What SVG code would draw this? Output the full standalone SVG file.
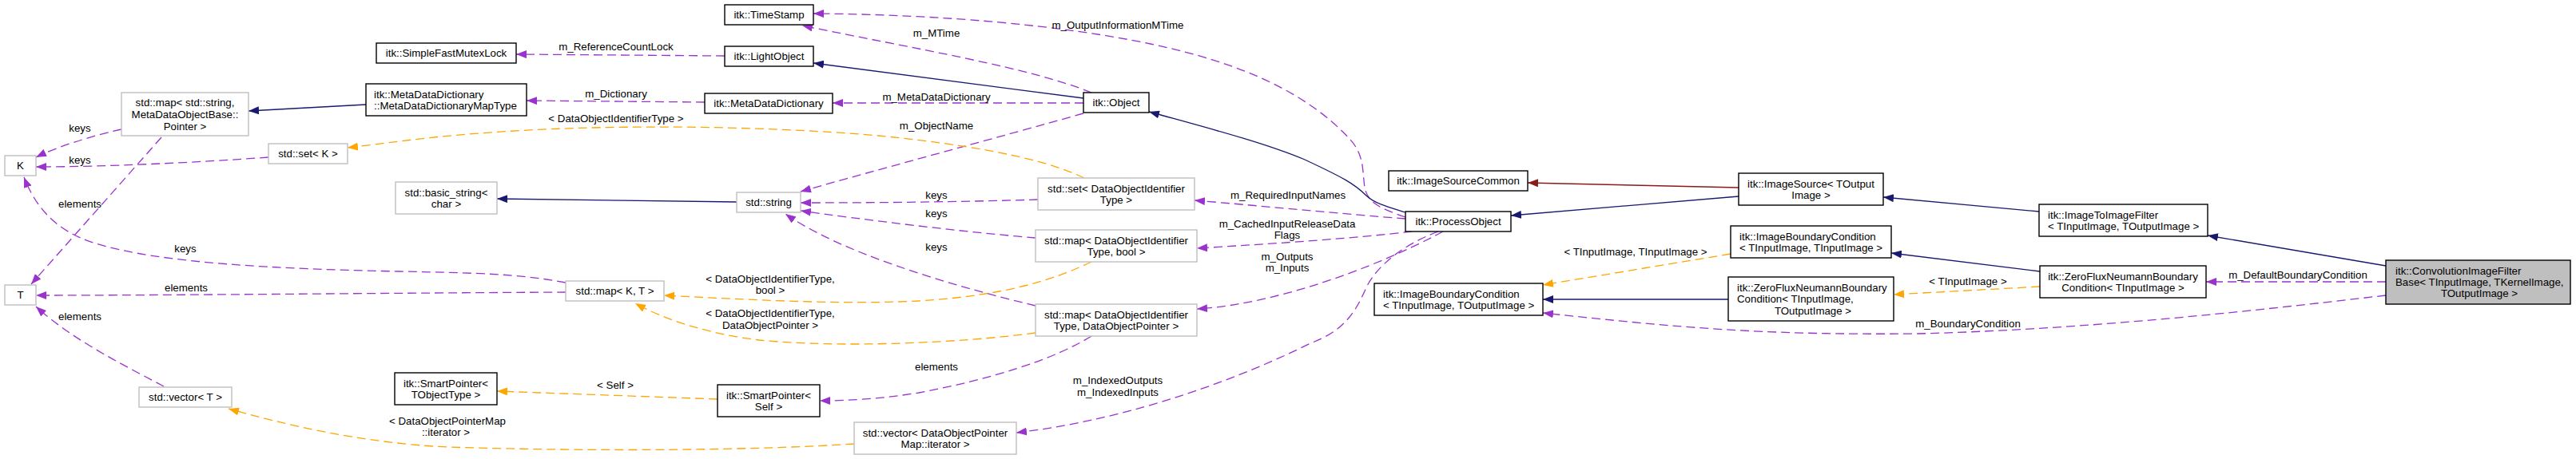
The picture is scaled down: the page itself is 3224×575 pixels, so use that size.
<svg xmlns="http://www.w3.org/2000/svg" width="3224" height="575" viewBox="0 0 3224 575">
<style>
text{font-family:"Liberation Sans",Arial,Helvetica,sans-serif;font-size:13.3px;fill:#000}
.c{text-anchor:middle}
.nd rect{fill:#fff;stroke:#000;stroke-width:1.4}
.ng rect{fill:#fff;stroke:#bfbfbf;stroke-width:1.4}
.root rect{fill:#bfbfbf;stroke:#000;stroke-width:1.4}
.e path{fill:none;stroke-width:1.3}
.p{stroke:#9a32cd;stroke-dasharray:11,6;marker-end:url(#ap)}
.o{stroke:#ffa500;stroke-dasharray:11,6;marker-end:url(#ao)}
.b{stroke:#191970;marker-end:url(#ab)}
.r{stroke:#8b1a1a;marker-end:url(#ar)}
</style>
<defs>
<marker id="ap" viewBox="0 0 13 10" refX="13" refY="5" markerWidth="13" markerHeight="10" markerUnits="userSpaceOnUse" orient="auto"><path d="M0,0 L13,5 L0,10 z" fill="#9a32cd"/></marker>
<marker id="ao" viewBox="0 0 13 10" refX="13" refY="5" markerWidth="13" markerHeight="10" markerUnits="userSpaceOnUse" orient="auto"><path d="M0,0 L13,5 L0,10 z" fill="#ffa500"/></marker>
<marker id="ab" viewBox="0 0 13 10" refX="13" refY="5" markerWidth="13" markerHeight="10" markerUnits="userSpaceOnUse" orient="auto"><path d="M0,0 L13,5 L0,10 z" fill="#191970"/></marker>
<marker id="ar" viewBox="0 0 13 10" refX="13" refY="5" markerWidth="13" markerHeight="10" markerUnits="userSpaceOnUse" orient="auto"><path d="M0,0 L13,5 L0,10 z" fill="#8b1a1a"/></marker>
</defs>
<rect x="0" y="0" width="3224" height="575" fill="#fff"/>

<g id="connectors" class="e">
<path class="p" d="M152,162 C125,168 80,180 45,197"/>
<path class="p" d="M336,197 C240,204 130,209 45,209"/>
<path class="p" d="M708,354 C650,343 600,342 500,340 C350,337 200,330 120,305 C70,290 45,260 30,222"/>
<path class="p" d="M708,366 C500,367 200,370 45,370"/>
<path class="p" d="M202,172 L39,356"/>
<path class="p" d="M205,484 C150,455 90,425 45,384"/>
<path class="b" d="M458,131 L311,139"/>
<path class="p" d="M907,70 L646,68"/>
<path class="p" d="M882,128 L659,126"/>
<path class="b" d="M1356,123 L1018,79"/>
<path class="p" d="M1366,116 C1290,85 1150,62 1004,32"/>
<path class="p" d="M1759,272 C1730,262 1712,255 1708,235 C1705,215 1708,195 1690,175 C1640,120 1560,80 1440,55 C1330,32 1180,18 1018,17"/>
<path class="p" d="M1356,129 L1042,129"/>
<path class="p" d="M1356,142 C1250,172 1100,212 1002,240"/>
<path class="b" d="M922,253 L622,249"/>
<path class="p" d="M1299,250 C1200,253 1100,254 1002,254"/>
<path class="p" d="M1296,298 C1200,290 1080,275 1002,264"/>
<path class="p" d="M1296,383 C1180,355 1050,315 983,268"/>
<path class="o" d="M1357,223 C1320,205 1250,185 1100,170 C950,157 750,155 600,167 C530,172 480,180 435,185"/>
<path class="o" d="M1366,328 C1320,350 1260,370 1150,377 C1050,382 930,375 831,370"/>
<path class="o" d="M1296,417 C1200,430 1050,436 950,426 C900,420 840,405 795,380"/>
<path class="p" d="M1366,421 C1320,450 1240,475 1150,492 C1100,500 1060,502 1026,502"/>
<path class="o" d="M898,500 L622,490"/>
<path class="o" d="M1069,556 C950,564 750,566 560,560 C450,555 350,530 286,512"/>
<path class="p" d="M1759,274 C1680,268 1580,258 1495,251"/>
<path class="p" d="M1767,290 C1700,298 1600,305 1498,311"/>
<path class="p" d="M1806,290 C1760,315 1680,350 1600,370 C1560,380 1530,385 1498,387"/>
<path class="p" d="M1800,290 C1760,305 1725,330 1710,360 C1695,395 1680,415 1640,430 C1560,470 1420,525 1272,542"/>
<path class="b" d="M1759,266 C1740,260 1720,255 1710,245 C1695,230 1680,222 1633,200 C1580,178 1510,160 1438,140"/>
<path class="r" d="M2176,235 L1912,229"/>
<path class="b" d="M2176,246 L1891,270"/>
<path class="b" d="M2552,265 L2357,247"/>
<path class="b" d="M2986,333 L2763,295"/>
<path class="p" d="M2986,353 L2761,353"/>
<path class="p" d="M2986,370 C2800,392 2600,413 2400,418 C2200,420 2100,410 1931,392"/>
<path class="b" d="M2553,340 L2367,317"/>
<path class="o" d="M2553,359 L2370,369"/>
<path class="b" d="M2163,375 L1931,375"/>
<path class="o" d="M2166,318 L1931,357"/>
</g>

<g id="edge-labels">
<text class="c" x="100" y="165">keys</text>
<text class="c" x="100" y="205">keys</text>
<text class="c" x="100" y="260">elements</text>
<text class="c" x="232" y="316">keys</text>
<text class="c" x="233" y="365">elements</text>
<text class="c" x="100" y="401">elements</text>
<text class="c" x="771" y="63">m_ReferenceCountLock</text>
<text class="c" x="771" y="122">m_Dictionary</text>
<text class="c" x="771" y="153">&lt; DataObjectIdentifierType &gt;</text>
<text class="c" x="964" y="354">&lt; DataObjectIdentifierType,</text>
<text class="c" x="964" y="368">bool &gt;</text>
<text class="c" x="964" y="397">&lt; DataObjectIdentifierType,</text>
<text class="c" x="964" y="412">DataObjectPointer &gt;</text>
<text class="c" x="770" y="487">&lt; Self &gt;</text>
<text class="c" x="560" y="532">&lt; DataObjectPointerMap</text>
<text class="c" x="558" y="546">::iterator &gt;</text>
<text class="c" x="1399" y="36">m_OutputInformationMTime</text>
<text class="c" x="1172" y="46">m_MTime</text>
<text class="c" x="1172" y="126">m_MetaDataDictionary</text>
<text class="c" x="1172" y="162">m_ObjectName</text>
<text class="c" x="1172" y="249">keys</text>
<text class="c" x="1172" y="272">keys</text>
<text class="c" x="1172" y="314">keys</text>
<text class="c" x="1172" y="464">elements</text>
<text class="c" x="1399" y="481">m_IndexedOutputs</text>
<text class="c" x="1399" y="496">m_IndexedInputs</text>
<text class="c" x="1612" y="249">m_RequiredInputNames</text>
<text class="c" x="1611" y="285">m_CachedInputReleaseData</text>
<text class="c" x="1611" y="299">Flags</text>
<text class="c" x="1611" y="326">m_Outputs</text>
<text class="c" x="1611" y="340">m_Inputs</text>
<text class="c" x="2047" y="320">&lt; TInputImage, TInputImage &gt;</text>
<text class="c" x="2463" y="357">&lt; TInputImage &gt;</text>
<text class="c" x="2463" y="410">m_BoundaryCondition</text>
<text class="c" x="2876" y="349">m_DefaultBoundaryCondition</text>
</g>

<g id="n_K" class="ng"><rect x="6" y="195" width="39" height="25"/><text class="c" x="25.5" y="212">K</text></g>
<g id="n_T" class="ng"><rect x="6" y="357" width="39" height="25"/><text class="c" x="25.5" y="374">T</text></g>
<g id="n_map_string" class="ng"><rect x="152" y="116" width="159" height="54"/><text class="c" x="231.5" y="133">std::map&lt; std::string,</text><text class="c" x="231.5" y="148">MetaDataObjectBase::</text><text class="c" x="231.5" y="163">Pointer &gt;</text></g>
<g id="n_set_K" class="ng"><rect x="336" y="180" width="99" height="25"/><text class="c" x="385.5" y="197">std::set&lt; K &gt;</text></g>
<g id="n_vector_T" class="ng"><rect x="174" y="485" width="116" height="25"/><text class="c" x="232" y="502">std::vector&lt; T &gt;</text></g>
<g id="n_sfml" class="nd"><rect x="471" y="54" width="175" height="25"/><text class="c" x="558.5" y="71">itk::SimpleFastMutexLock</text></g>
<g id="n_mddmap" class="nd"><rect x="458" y="105" width="201" height="40"/><text x="468" y="123">itk::MetaDataDictionary</text><text x="468" y="137">::MetaDataDictionaryMapType</text></g>
<g id="n_basic_string" class="ng"><rect x="495" y="228" width="127" height="40"/><text class="c" x="558.5" y="246">std::basic_string&lt;</text><text class="c" x="558.5" y="260">char &gt;</text></g>
<g id="n_sp_tobj" class="nd"><rect x="494" y="467" width="128" height="40"/><text class="c" x="558" y="485">itk::SmartPointer&lt;</text><text class="c" x="558" y="499">TObjectType &gt;</text></g>
<g id="n_timestamp" class="nd"><rect x="907" y="6" width="111" height="25"/><text class="c" x="962.5" y="23">itk::TimeStamp</text></g>
<g id="n_lightobject" class="nd"><rect x="907" y="58" width="111" height="25"/><text class="c" x="962.5" y="75">itk::LightObject</text></g>
<g id="n_mdd" class="nd"><rect x="882" y="117" width="160" height="25"/><text class="c" x="962" y="134">itk::MetaDataDictionary</text></g>
<g id="n_string" class="ng"><rect x="922" y="241" width="80" height="25"/><text class="c" x="962" y="258">std::string</text></g>
<g id="n_map_KT" class="ng"><rect x="708" y="352" width="123" height="25"/><text class="c" x="769.5" y="369">std::map&lt; K, T &gt;</text></g>
<g id="n_sp_self" class="nd"><rect x="898" y="482" width="128" height="40"/><text class="c" x="962" y="500">itk::SmartPointer&lt;</text><text class="c" x="962" y="514">Self &gt;</text></g>
<g id="n_object" class="nd"><rect x="1356" y="116" width="82" height="25"/><text class="c" x="1397" y="133">itk::Object</text></g>
<g id="n_set_doit" class="ng"><rect x="1299" y="223" width="196" height="40"/><text class="c" x="1397" y="241">std::set&lt; DataObjectIdentifier</text><text class="c" x="1397" y="255">Type &gt;</text></g>
<g id="n_map_bool" class="ng"><rect x="1296" y="288" width="202" height="40"/><text class="c" x="1397" y="306">std::map&lt; DataObjectIdentifier</text><text class="c" x="1397" y="320">Type, bool &gt;</text></g>
<g id="n_map_dop" class="ng"><rect x="1296" y="381" width="202" height="40"/><text class="c" x="1397" y="399">std::map&lt; DataObjectIdentifier</text><text class="c" x="1397" y="413">Type, DataObjectPointer &gt;</text></g>
<g id="n_vector_dop" class="ng"><rect x="1069" y="529" width="203" height="40"/><text class="c" x="1170.5" y="547">std::vector&lt; DataObjectPointer</text><text class="c" x="1170.5" y="561">Map::iterator &gt;</text></g>
<g id="n_isc" class="nd"><rect x="1738" y="214" width="174" height="25"/><text class="c" x="1825" y="231">itk::ImageSourceCommon</text></g>
<g id="n_processobject" class="nd"><rect x="1759" y="265" width="132" height="25"/><text class="c" x="1825" y="282">itk::ProcessObject</text></g>
<g id="n_ibc_to" class="nd"><rect x="1720" y="355" width="211" height="40"/><text x="1731" y="373">itk::ImageBoundaryCondition</text><text x="1731" y="387">&lt; TInputImage, TOutputImage &gt;</text></g>
<g id="n_imagesource" class="nd"><rect x="2176" y="217" width="181" height="40"/><text class="c" x="2266.5" y="235">itk::ImageSource&lt; TOutput</text><text class="c" x="2266.5" y="249">Image &gt;</text></g>
<g id="n_ibc_ti" class="nd"><rect x="2166" y="283" width="201" height="40"/><text x="2177" y="301">itk::ImageBoundaryCondition</text><text x="2177" y="315">&lt; TInputImage, TInputImage &gt;</text></g>
<g id="n_zf_to" class="nd"><rect x="2163" y="347" width="207" height="55"/><text x="2174" y="365">itk::ZeroFluxNeumannBoundary</text><text x="2174" y="379">Condition&lt; TInputImage,</text><text class="c" x="2269" y="394">TOutputImage &gt;</text></g>
<g id="n_i2i" class="nd"><rect x="2552" y="256" width="211" height="40"/><text x="2563" y="274">itk::ImageToImageFilter</text><text x="2563" y="288">&lt; TInputImage, TOutputImage &gt;</text></g>
<g id="n_zf_ti" class="nd"><rect x="2553" y="333" width="208" height="40"/><text class="c" x="2657" y="351">itk::ZeroFluxNeumannBoundary</text><text class="c" x="2657" y="365">Condition&lt; TInputImage &gt;</text></g>
<g id="n_conv" class="root"><rect x="2986" y="326" width="231" height="55"/><text x="2998" y="344">itk::ConvolutionImageFilter</text><text x="2998" y="358">Base&lt; TInputImage, TKernelImage,</text><text class="c" x="3103" y="372">TOutputImage &gt;</text></g>
</svg>
